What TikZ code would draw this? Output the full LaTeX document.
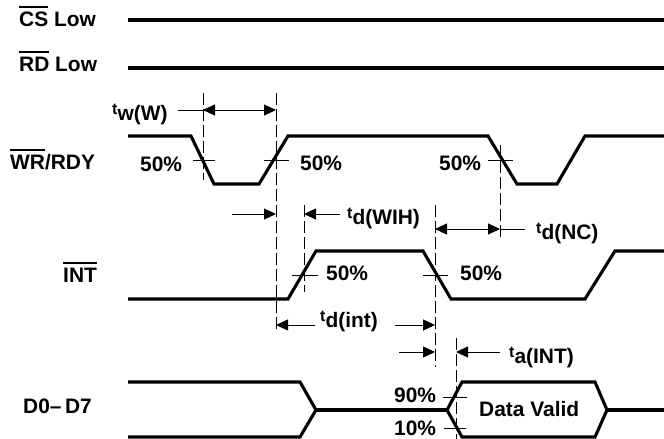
\documentclass[tikz,border=0pt]{standalone}
\usepackage{fontspec}
\setmainfont{Liberation Sans}
\usetikzlibrary{arrows.meta}
\newcommand\ovl[1]{\setbox0\hbox{#1}\rlap{\rule[19bp]{\wd0}{2bp}}\box0\relax}
\newcommand\tlab[1]{\raisebox{6bp}{\fontsize{16}{16}\selectfont t}#1}
\tikzset{
  sig/.style={line width=3.1bp, line join=miter},
  thinln/.style={line width=0.9bp},
  dashln/.style={line width=0.9bp, dash pattern=on 12bp off 4bp},
  arr/.style={line width=0.9bp, -{Triangle[length=12bp,width=11bp]}},
  darr/.style={line width=0.9bp, {Triangle[length=12bp,width=11bp]}-{Triangle[length=12bp,width=11bp]}},
  lbl/.style={anchor=base west, inner sep=0pt, font=\fontsize{21}{24}\selectfont\bfseries},
}
\begin{document}
\begin{tikzpicture}[x=1bp,y=-1bp]
\useasboundingbox (0,0) rectangle (664,439);
\fill[white] (0,0) rectangle (664,439);

% signal names
\node[lbl] (ncs) at (19,27) {\ovl{CS} Low};
\node[lbl] (nrd) at (19,72) {\ovl{RD} Low};
\node[lbl] (nwr) at (10,170) {\ovl{WR}/RDY};
\node[lbl] (nint) at (63,283) {\ovl{INT}};
\node[lbl] (nd) at (23,413) {D0–\,D7};

% waveforms
\draw[sig] (128,20) -- (664,20);
\draw[sig] (128,68) -- (664,68);
\draw[sig] (128,136) -- (191,136) -- (214,184) -- (259,184) -- (288,136) -- (488,136) -- (517,184) -- (557,184) -- (585,136) -- (664,136);
\draw[sig] (128,299) -- (288,299) -- (316,251) -- (423,251) -- (451,299) -- (585,299) -- (615,251) -- (664,251);
\draw[sig] (128,382) -- (300,382) -- (316,410) -- (300,437) -- (128,437);
\draw[sig] (316,410) -- (447,410);
\draw[sig] (447,410) -- (462,382) -- (595,382) -- (607,410) -- (595,437) -- (462,437) -- cycle;
\draw[sig] (607,410) -- (664,410);

% dashed references
\draw[dashln] (203,93) -- (203,180);
\draw[dashln] (276,93) -- (276,333);
\draw[dashln] (304,205) -- (304,292);
\draw[dashln] (435,205) -- (435,367);
\draw[dashln] (500,145) -- (500,238);
\draw[dashln] (456,338) -- (456,439);

% crossing ticks
\draw[thinln] (193,160) -- (215,160);
\draw[thinln] (264,160) -- (289,160);
\draw[thinln] (488,160) -- (513,160);
\draw[thinln] (292,275) -- (318,275);
\draw[thinln] (423,275) -- (448,275);
\draw[thinln] (443,397) -- (467,397);
\draw[thinln] (444,428) -- (466,428);

% percent labels
\node[lbl] (p1) at (140,172) {50\%};
\node[lbl] (p2) at (300,171) {50\%};
\node[lbl] (p3) at (439,171) {50\%};
\node[lbl] (p4) at (326,281) {50\%};
\node[lbl] (p5) at (460,281) {50\%};
\node[lbl] (p90) at (394,402) {90\%};
\node[lbl] (p10) at (394,435) {10\%};
\node[lbl] (dv) at (479,416) {Data Valid};

% timing arrows
\draw[thinln] (178,110) -- (203,110);
\draw[darr] (203,110) -- (276,110);
\draw[arr] (232,214) -- (276,214);
\draw[arr] (340,214) -- (304,214);
\draw[darr] (435,229) -- (500,229);
\draw[thinln] (500,229) -- (525,229);
\draw[arr] (315,325) -- (276,325);
\draw[arr] (395,325) -- (435,325);
\draw[arr] (399,352) -- (435,352);
\draw[arr] (500,352) -- (456,352);

% timing labels
\node[lbl] (tw) at (112,121) {\tlab{w(W)}};
\node[lbl] (twih) at (347,225) {\tlab{d(WIH)}};
\node[lbl] (tnc) at (536,240) {\tlab{d(NC)}};
\node[lbl] (tint) at (320,328) {\tlab{d(int)}};
\node[lbl] (ta) at (509,363) {\tlab{a(INT)}};
\end{tikzpicture}
\end{document}
